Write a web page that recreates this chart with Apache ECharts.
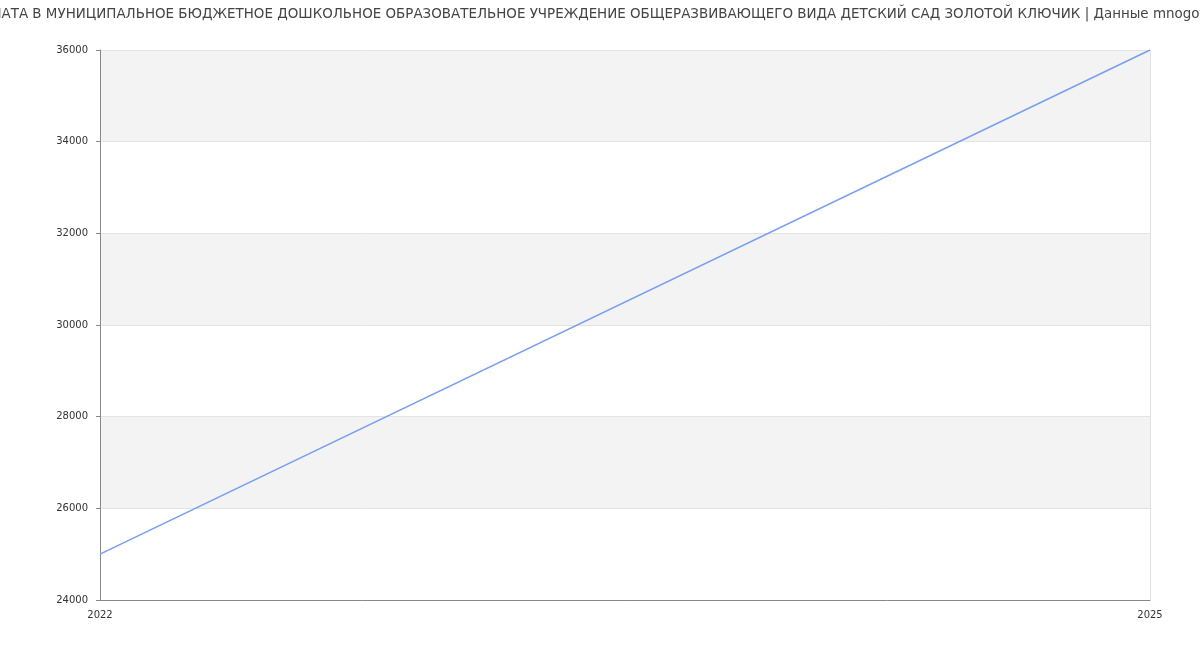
<!DOCTYPE html>
<html>
<head>
<meta charset="utf-8">
<script src="https://cdn.jsdelivr.net/npm/echarts@6/dist/echarts.min.js"></script>
<style>
  html, body { margin: 0; padding: 0; background: #fff; }
  #chart { width: 1200px; height: 650px; }
</style>
</head>
<body>
<div id="chart"></div>
<script>
// data
const years = ['2022', '2025'];
const salary = [25000, 36000];
const titleText = 'ЗАРПЛАТА В МУНИЦИПАЛЬНОЕ БЮДЖЕТНОЕ ДОШКОЛЬНОЕ ОБРАЗОВАТЕЛЬНОЕ УЧРЕЖДЕНИЕ ОБЩЕРАЗВИВАЮЩЕГО ВИДА ДЕТСКИЙ САД ЗОЛОТОЙ КЛЮЧИК | Данные mnogofirm.ru';

const chart = echarts.init(document.getElementById('chart'), null, { renderer: 'canvas' });

chart.setOption({
  animation: false,
  textStyle: { fontFamily: 'DejaVu Sans' },
  title: {
    text: titleText,
    left: 'center',
    top: 3,
    textStyle: { fontSize: 13.45, fontWeight: 'normal', color: '#444', fontFamily: 'DejaVu Sans' }
  },
  grid: { left: 100, right: 50, top: 50, bottom: 50 },
  xAxis: {
    type: 'category',
    data: years,
    boundaryGap: false,
    axisLine: { lineStyle: { color: '#888' } },
    axisTick: { show: false },
    axisLabel: { color: '#333', fontSize: 10, margin: 10 },
    splitLine: { show: true, lineStyle: { color: '#e3e3e3' } }
  },
  yAxis: {
    type: 'value',
    min: 24000,
    max: 36000,
    interval: 2000,
    axisLine: { show: true, lineStyle: { color: '#888' } },
    axisTick: { show: true, length: 4, lineStyle: { color: '#888' } },
    axisLabel: { color: '#333', fontSize: 10, margin: 12, formatter: v => String(v) },
    splitLine: { show: true, lineStyle: { color: '#e3e3e3' } },
    splitArea: { show: true, areaStyle: { color: ['#ffffff', '#f3f3f3'] } }
  },
  series: [{
    type: 'line',
    data: salary,
    symbol: 'none',
    lineStyle: { color: '#779ef0', width: 1.5 },
    itemStyle: { color: '#779ef0' }
  }]
});
</script>
</body>
</html>
